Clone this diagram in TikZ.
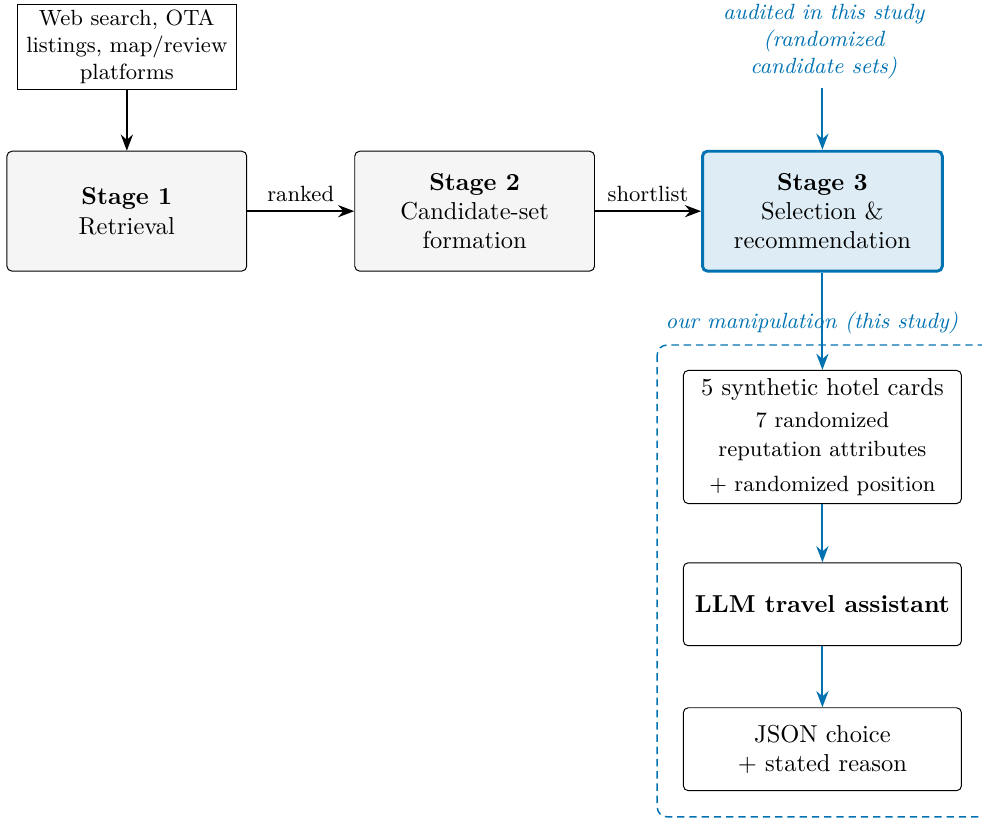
\documentclass[tikz,border=0pt]{standalone}
\usepackage{amsmath}
\usepackage{tikz}
\usetikzlibrary{arrows.meta,positioning,calc}
\definecolor{studyblue}{RGB}{0,114,178}
\definecolor{stagegray}{RGB}{245,245,245}
\definecolor{stagefill}{RGB}{222,237,245}

\begin{document}
\begin{tikzpicture}[->,>=Stealth,auto,thick,
   stagebox/.style={draw, thin, rounded corners=2pt, fill=stagegray, align=center,
     minimum width=3.44cm, minimum height=1.72cm},
   cardbox/.style={draw, thin, rounded corners=2pt, align=center,
     minimum width=3.99cm},
   studyarrow/.style={studyblue, thick},
   note/.style={font=\small\itshape, text=studyblue, align=center}]
  \useasboundingbox (0, 0) rectangle (14.09, -11.75);
  % upstream pipeline
  \node[draw, thin, align=center, font=\small, minimum width=3.14cm, minimum height=1.22cm, inner sep=1pt] (src) at (1.82, -0.67) {Web search, OTA\\listings, map/review\\platforms};
  \node[stagebox] (s1) at (1.82, -3.03) {\textbf{Stage 1}\\Retrieval};
  \node[stagebox] (s2) at (6.81, -3.03) {\textbf{Stage 2}\\Candidate-set\\formation};
  \node[stagebox, draw=studyblue, very thick, fill=stagefill] (s3) at (11.80, -3.03) {\textbf{Stage 3}\\Selection \&\\recommendation};
  \node[note] (aud) at (11.82, -0.60) {audited in this study\\(randomized\\candidate sets)};
  \coordinate (audtip) at (11.80, -1.26);
  \path (src) edge (s1);
  \path (s1) edge node[font=\small] {ranked} (s2);
  \path (s2) edge node[font=\small] {shortlist} (s3);
  \path[studyarrow] (audtip) edge (s3);
  % our manipulation
  \draw[-, studyblue, semithick, dash pattern=on 3pt off 2pt, rounded corners=4pt] (9.43, -4.95) rectangle (14.4, -11.72);
  \node[note] (manip) at (11.65, -4.63) {our manipulation (this study)};
  \node[cardbox, minimum height=1.84cm] (cards) at (11.80, -6.27) {5 synthetic hotel cards\\[1pt]{\small 7 randomized}\\{\small reputation attributes}\\[2pt]{\small + randomized position}};
  \node[cardbox, minimum height=1.19cm] (llm) at (11.80, -8.67) {\textbf{LLM travel assistant}};
  \node[cardbox, minimum height=1.19cm] (json) at (11.80, -10.75) {JSON choice\\+ stated reason};
  \path[studyarrow] (s3) edge (cards);
  \path[studyarrow] (cards) edge (llm);
  \path[studyarrow] (llm) edge (json);
\end{tikzpicture}
\end{document}
